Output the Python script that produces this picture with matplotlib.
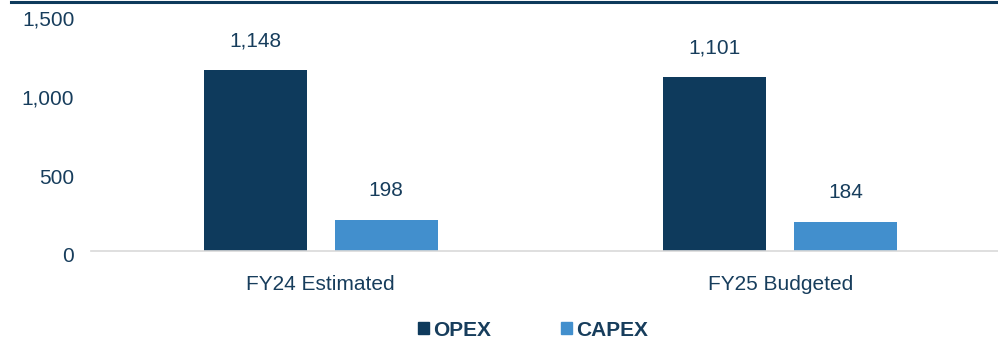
import numpy as np
import matplotlib.pyplot as plt
import matplotlib.transforms as mtransforms
from matplotlib.lines import Line2D
from matplotlib.patches import Patch

categories = ['FY24 Estimated', 'FY25 Budgeted']
opex = [1148, 1101]
capex = [198, 184]
yticks = [0, 500, 1000, 1500]

navy = '#0e3a5c'
blue = '#428fcd'
text_col = '#173d5c'

plt.rcParams['font.family'] = ['Liberation Sans', 'DejaVu Sans']

fig = plt.figure(figsize=(9.98, 3.39), dpi=100)
ax = fig.add_axes([0.0912, 0.2596, 0.9088, 0.699])

x = np.arange(len(categories))
w = 0.224
off = 0.1425
b1 = ax.bar(x - off, opex, w, color=navy)
b2 = ax.bar(x + off, capex, w, color=blue)

for bars, vals in [(b1, opex), (b2, capex)]:
    for bar, v in zip(bars, vals):
        ax.annotate(f'{v:,}', (bar.get_x() + bar.get_width() / 2, v),
                    xytext=(0, 14), textcoords='offset points',
                    ha='center', va='bottom', fontsize=15, color=text_col)

ax.set_xlim(-0.5, 1.474)
ax.set_ylim(0, 1500)
ax.set_xticks(x)
ax.set_xticklabels(categories)
ax.set_yticks(yticks)
ax.set_yticklabels([f'{t:,}' for t in yticks])
ax.tick_params(axis='x', length=0, pad=17, labelsize=15, labelcolor=text_col)
ax.tick_params(axis='y', length=0, pad=12, labelsize=15, labelcolor=text_col)

# nudge the value labels on the left a little lower
shift = mtransforms.ScaledTranslation(0, -4 / 100, fig.dpi_scale_trans)
for lab in ax.get_yticklabels():
    lab.set_transform(lab.get_transform() + shift)

for s in ['top', 'right', 'left']:
    ax.spines[s].set_visible(False)
ax.spines['bottom'].set_color('#d9d9d9')
ax.spines['bottom'].set_linewidth(1.2)

# dark rule across the top
fig.add_artist(Line2D([11 / 998, 1.0], [1 - 1.5 / 339, 1 - 1.5 / 339],
                      color=navy, linewidth=2.2, transform=fig.transFigure))

handles = [Patch(color=navy, label='OPEX'), Patch(color=blue, label='CAPEX')]
leg = fig.legend(handles=handles, loc='center', ncol=2, frameon=False,
                 bbox_to_anchor=(533 / 998, 9 / 339),
                 prop={'size': 15, 'weight': 'bold'},
                 handlelength=0.5, handleheight=0.5, handletextpad=0.2,
                 columnspacing=3.4, borderpad=0.1)
for t in leg.get_texts():
    t.set_color(text_col)

fig.savefig('out.png', dpi=100)
